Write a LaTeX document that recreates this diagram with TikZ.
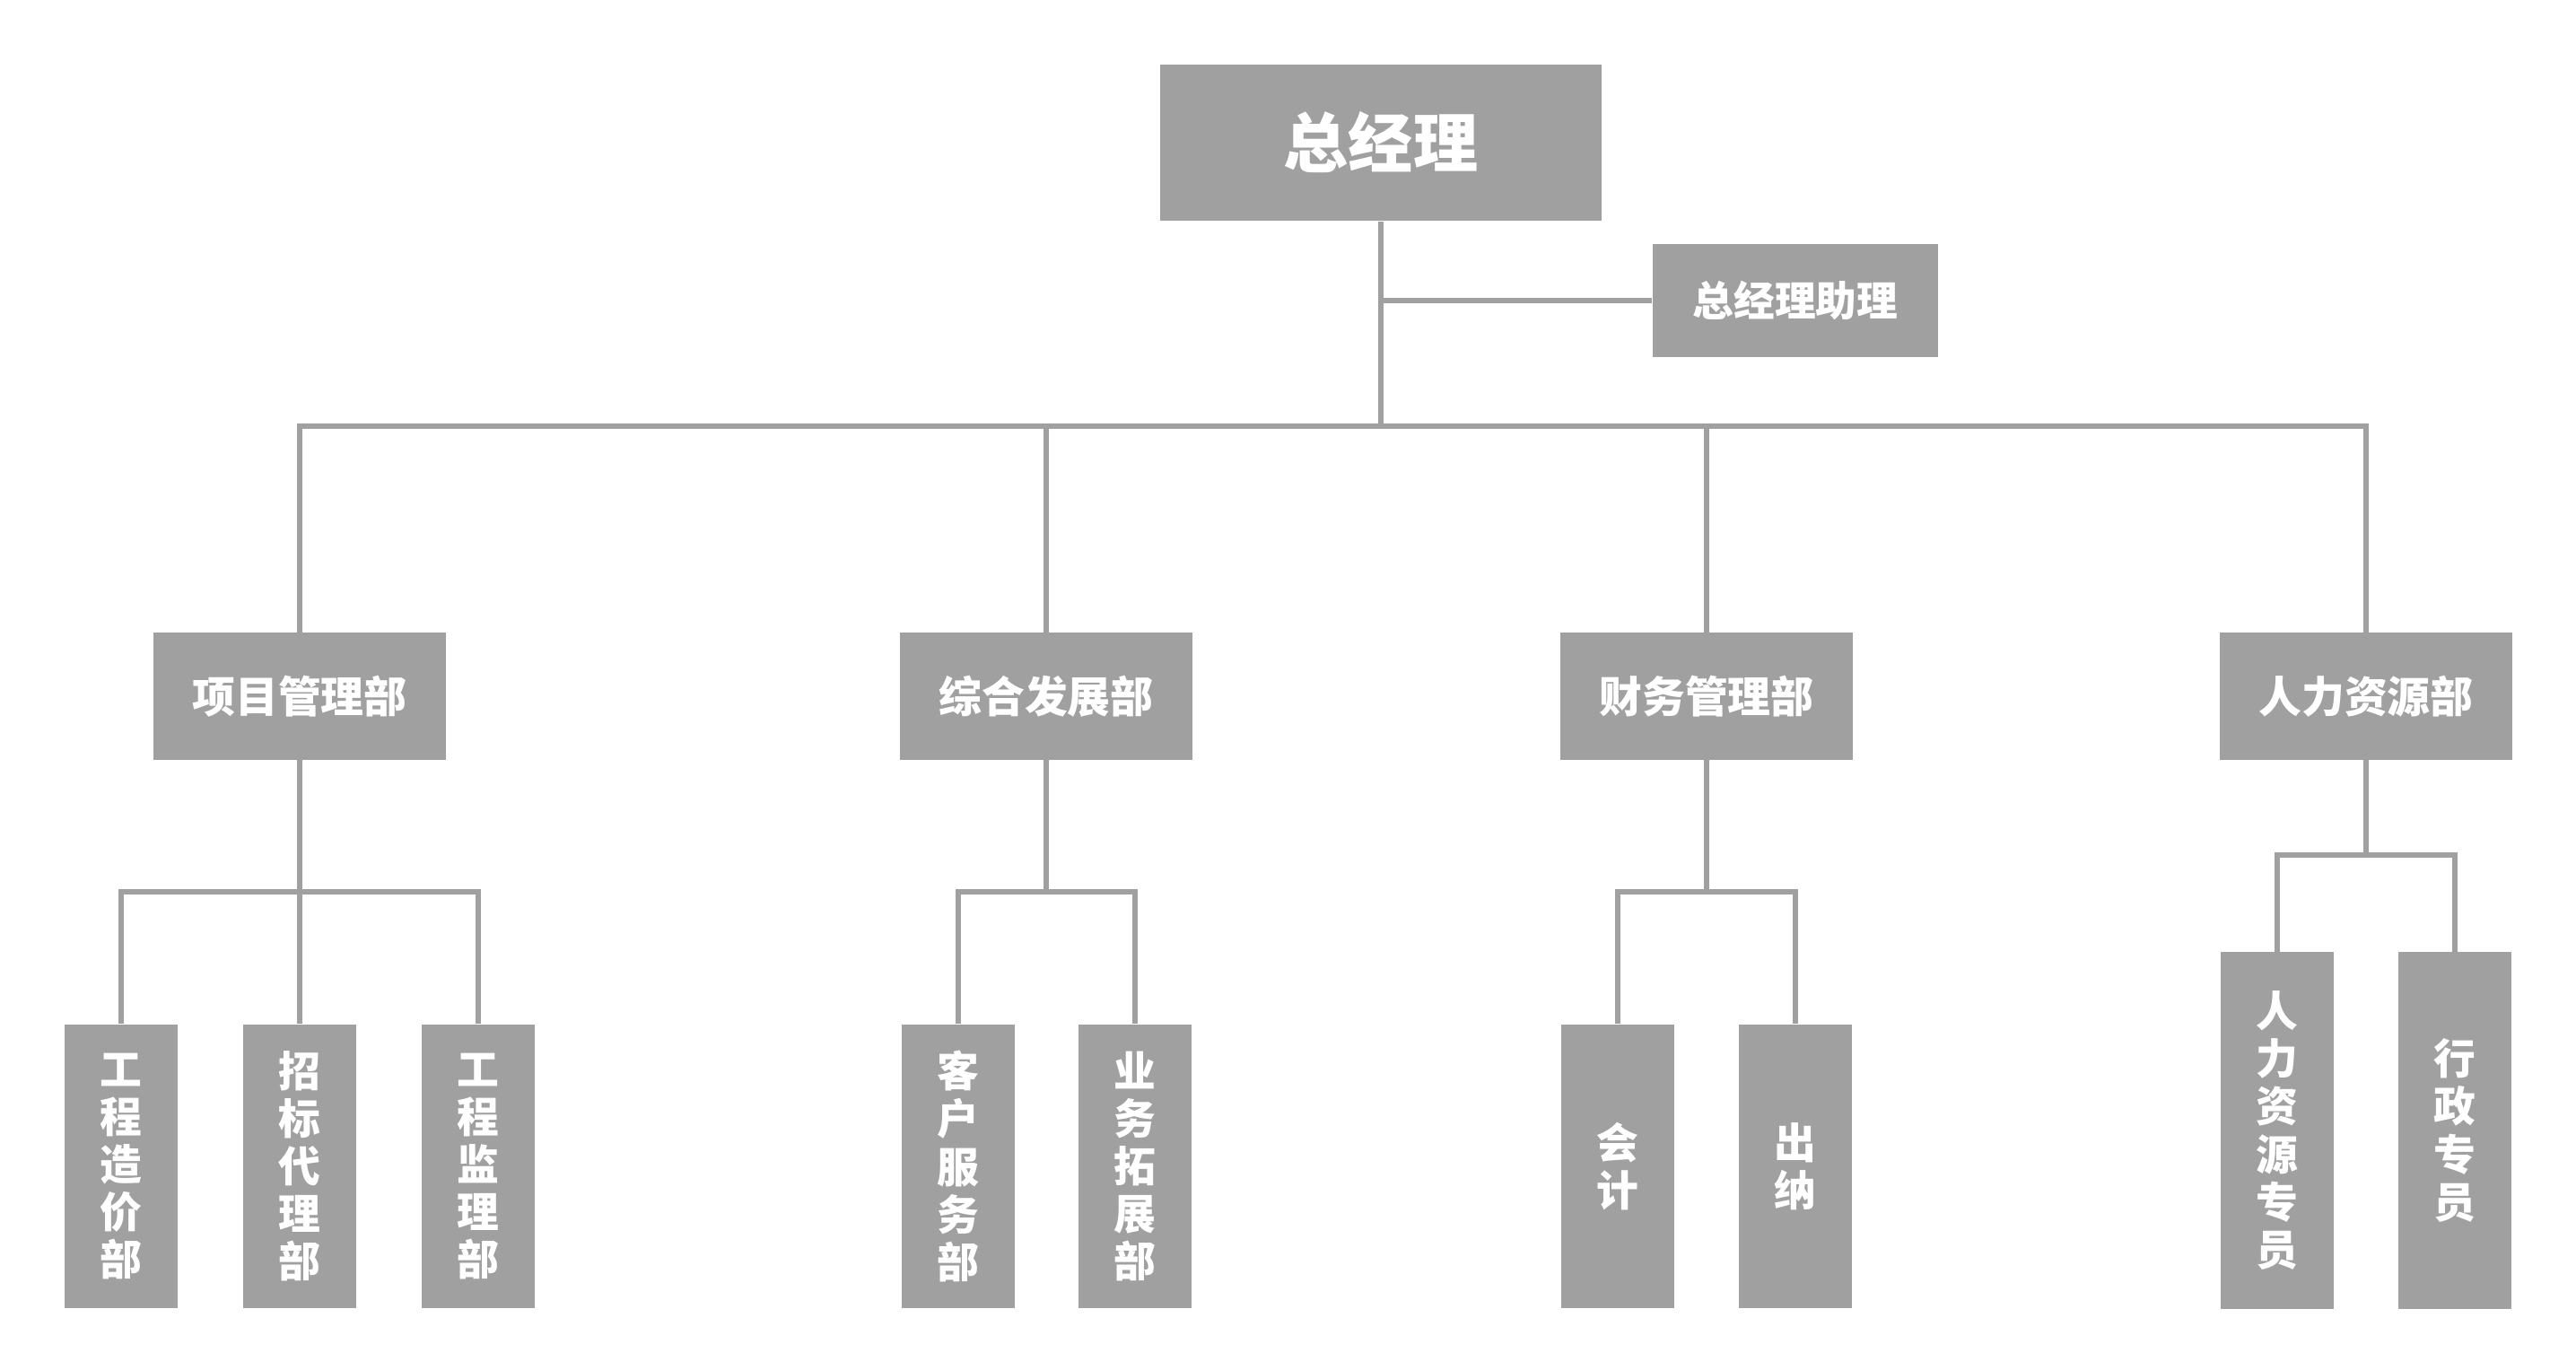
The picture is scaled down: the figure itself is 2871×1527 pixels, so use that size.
\documentclass[tikz,border=0pt]{standalone}
\usepackage{fontspec}
\setmainfont{Noto Sans CJK SC}[BoldFont={Noto Sans CJK SC Black}]
\usetikzlibrary{calc}
\definecolor{boxgray}{RGB}{160,160,160}
\definecolor{linegray}{RGB}{160,160,160}

\begin{document}
\begin{tikzpicture}[x=0.01cm, y=-0.01cm,
        box/.style={fill=boxgray, text=white, inner sep=0pt, align=center},
        topbox/.style={box, minimum width=4.92cm, minimum height=1.74cm, font=\fontsize{20.5}{24}\selectfont\bfseries},
        asstbox/.style={box, minimum width=3.18cm, minimum height=1.25cm, font=\fontsize{13}{15}\selectfont\bfseries},
        deptbox/.style={box, minimum width=3.25cm, minimum height=1.41cm, font=\fontsize{13.6}{15}\selectfont\bfseries},
        unitbox/.style={box, minimum width=1.26cm, minimum height=3.16cm, font=\fontsize{13.3}{15.1}\selectfont\bfseries},
        tallbox/.style={unitbox, minimum height=3.97cm},
        link/.style={draw=linegray, line width=0.06cm}]
        \useasboundingbox (0,0) rectangle (2871,1527);

        % top
        \node[topbox] (gm) at (1539,159) {总经理};
        \node[asstbox] (asst) at (2001,335) {总经理助理};

        % departments
        \node[deptbox] (proj) at (334,776) {项目管理部};
        \node[deptbox] (dev) at (1166,776) {综合发展部};
        \node[deptbox] (fin) at (1902,776) {财务管理部};
        \node[deptbox] (hr) at (2637,776) {人力资源部};

        % units
        \node[unitbox] (pa) at (135,1300) {工\\程\\造\\价\\部};
        \node[unitbox] (pb) at (334,1300) {招\\标\\代\\理\\部};
        \node[unitbox] (pc) at (533,1300) {工\\程\\监\\理\\部};
        \node[unitbox] (da) at (1068,1300) {客\\户\\服\\务\\部};
        \node[unitbox] (db) at (1265,1300) {业\\务\\拓\\展\\部};
        \node[unitbox] (fa) at (1803,1300) {会\\计};
        \node[unitbox] (fb) at (2001,1300) {出\\纳};
        \node[tallbox] (ha) at (2538,1260) {人\\力\\资\\源\\专\\员};
        \node[tallbox] (hb) at (2736,1260) {行\\政\\专\\员};

        % connectors
        \coordinate (bus) at (1539,475);
        \draw[link] (gm.south) -- (bus);
        \draw[link] (gm.south |- asst.west) -- (asst.west);
        \draw[link] (proj.north) |- (bus) -| (hr.north);
        \draw[link] (dev.north) -- (dev.north |- bus);
        \draw[link] (fin.north) -- (fin.north |- bus);

        \coordinate (j1) at (334,994);
        \coordinate (j2) at (1166,994);
        \coordinate (j3) at (1902,994);
        \coordinate (j4) at (2637,953);
        \draw[link] (proj.south) -- (j1);
        \draw[link] (pa.north) |- (j1) -| (pc.north);
        \draw[link] (pb.north) -- (j1);
        \draw[link] (dev.south) -- (j2);
        \draw[link] (da.north) |- (j2) -| (db.north);
        \draw[link] (fin.south) -- (j3);
        \draw[link] (fa.north) |- (j3) -| (fb.north);
        \draw[link] (hr.south) -- (j4);
        \draw[link] (ha.north) |- (j4) -| (hb.north);
\end{tikzpicture}
\end{document}
